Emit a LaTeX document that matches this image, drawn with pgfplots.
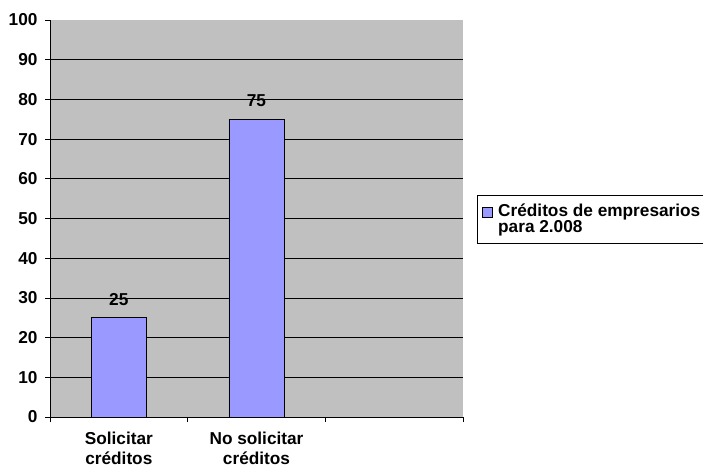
\documentclass[border=0pt]{standalone}
\usepackage{pgfplots}
\pgfplotsset{compat=1.18}
\usepackage{fontspec}
\setmainfont{Liberation Sans}
\definecolor{barblue}{HTML}{9999FF}
\definecolor{plotgray}{HTML}{C0C0C0}
\newcommand{\chartfont}{\fontsize{17.3}{19.5}\selectfont\bfseries}
\begin{document}
\begin{tikzpicture}
\useasboundingbox (-50bp,-52bp) rectangle (653bp,417bp);
\begin{axis}[
  at={(0,0)}, anchor=south west,
  scale only axis, width=413bp, height=397bp,
  xmin=-0.5, xmax=2.5, ymin=0, ymax=100,
  axis background/.style={fill=plotgray},
  axis x line*=bottom, axis y line*=left,
  axis line style={black, line width=0.8pt},
  tick align=outside, major tick length=5bp,
  tick style={black, line width=0.8pt},
  font=\chartfont,
  ytick={0,10,...,100},
  yticklabel style={font=\chartfont, xshift=-4bp},
  /pgf/number format/assume math mode=true,
  extra y ticks={10,20,...,90},
  extra y tick labels={},
  extra y tick style={grid=major, major tick length=0pt},
  grid style={black, line width=0.6pt},
  xtick={-0.5,0.5,1.5,2.5},
  xticklabels={},
  extra x ticks={0,1},
  extra x tick labels={Solicitar\\créditos, No solicitar\\créditos},
  extra x tick style={major tick length=0pt,
    tick label style={align=center, yshift=-11bp,
      font=\fontsize{17.3}{21}\selectfont\bfseries}},
  ybar, bar width=0.4,
  nodes near coords,
  every node near coord/.append style={font=\chartfont,
    anchor=south, inner sep=0pt, yshift=12bp},
  legend style={at={(1.0339,0.5592)}, anchor=north west, draw=black, fill=white,
    font=\fontsize{17.3}{16.5}\selectfont\bfseries, inner xsep=3bp, inner ysep=6.5bp,
    cells={align=left}},
  legend cell align=left,
  legend image code/.code={%
    \path[draw=none, fill=none] (0bp,2bp) rectangle (16bp,3bp);
    \draw[#1, line width=0.5pt] (2bp,2bp) rectangle (12bp,12bp);},
]
\addplot[fill=barblue, draw=black, line width=0.8pt] coordinates {(0,25) (1,75)};
\addlegendentry{Créditos de empresarios\\para 2.008}
\end{axis}
\end{tikzpicture}
\end{document}
